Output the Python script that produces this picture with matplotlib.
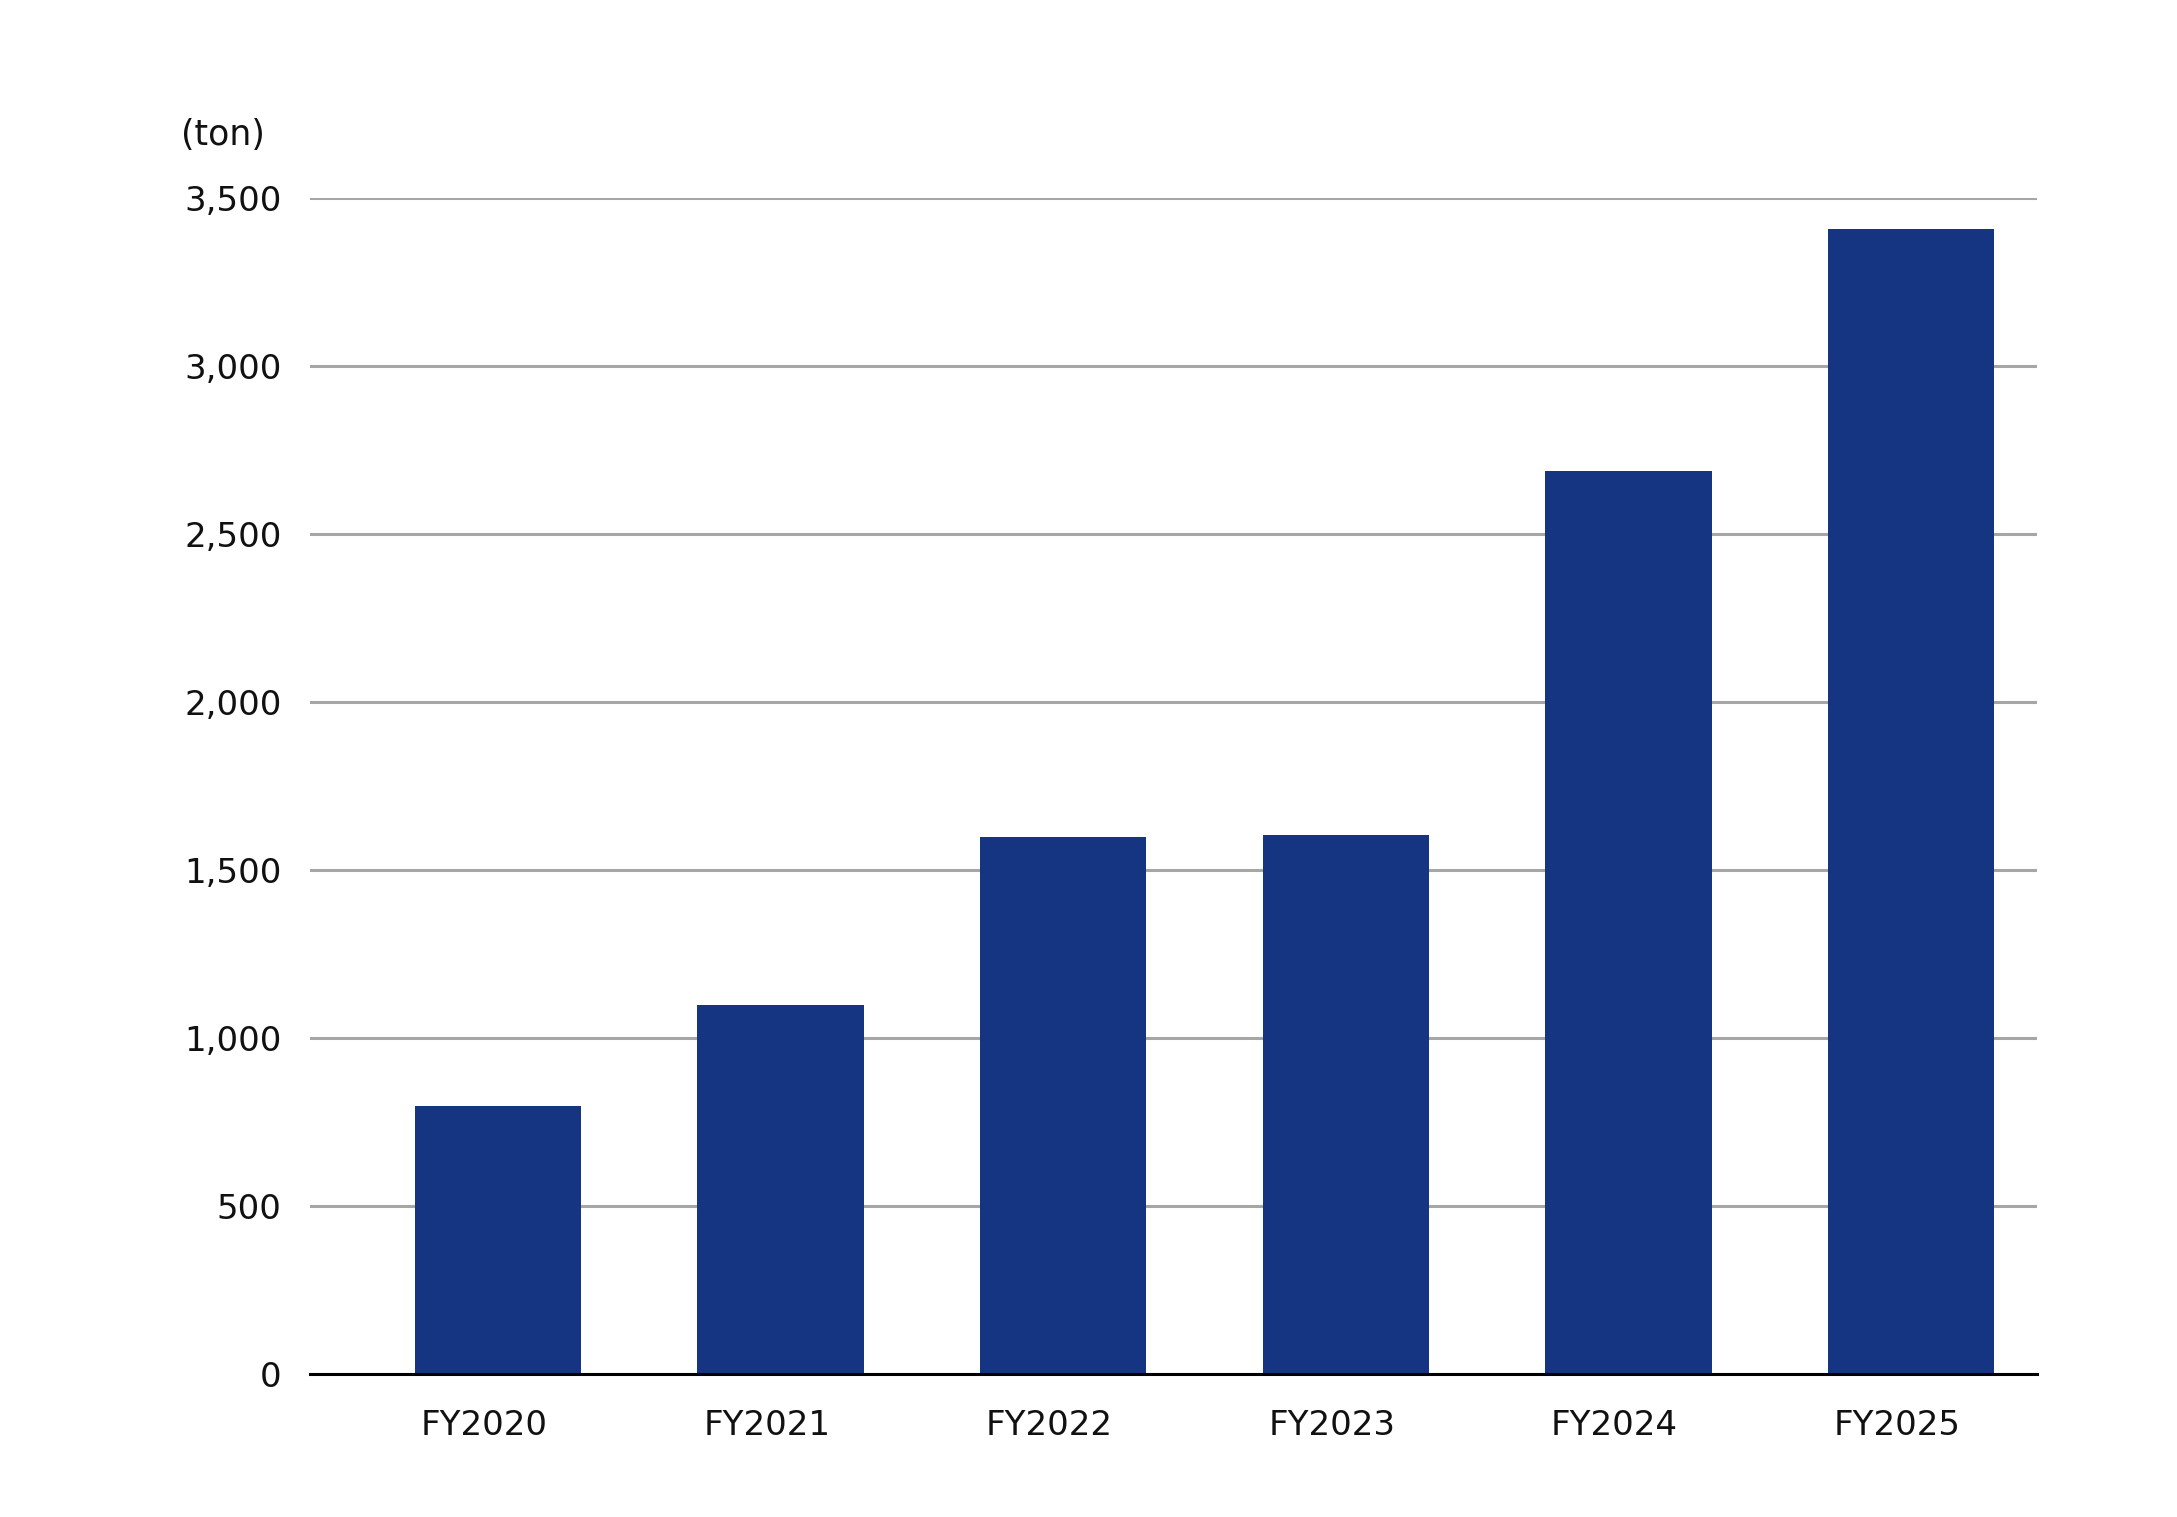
import matplotlib.pyplot as plt
import matplotlib.transforms as mtransforms
from matplotlib.ticker import FuncFormatter

years = ['FY2020', 'FY2021', 'FY2022', 'FY2023', 'FY2024', 'FY2025']
tons = [798, 1098, 1598, 1604, 2688, 3408]
y_ticks = [0, 500, 1000, 1500, 2000, 2500, 3000, 3500]

fig = plt.figure(figsize=(21.77, 15.17), dpi=100)
ax = fig.add_axes([0.1422, 0.0943, 0.7935, 0.7752])

# бары
ax.bar(range(len(years)), tons, width=0.589, color='#153582', zorder=3)

ax.set_xlim(-0.667, 5.446)
ax.set_ylim(0, 3500)
ax.set_yticks(y_ticks)
ax.yaxis.set_major_formatter(FuncFormatter(lambda v, p: f'{int(v):,}'))
ax.set_xticks(range(len(years)))
ax.set_xticklabels(years)

ax.grid(axis='y', color='#a6a6a6', linewidth=2.2, zorder=0)
ax.set_axisbelow(True)
for side in ['top', 'right', 'left']:
    ax.spines[side].set_visible(False)
ax.spines['bottom'].set_color('black')
ax.spines['bottom'].set_linewidth(2.2)
ax.spines['bottom'].set_zorder(4)

ax.tick_params(axis='both', length=0, labelsize=24.5, colors='#111111')
ax.tick_params(axis='y', pad=20)
ax.tick_params(axis='x', pad=25)

# подписи по оси X в оригинале чуть левее центра столбцов
shift = mtransforms.ScaledTranslation(-0.14, 0, fig.dpi_scale_trans)
for lbl in ax.get_xticklabels():
    lbl.set_transform(lbl.get_transform() + shift)

fig.text(0.083, 0.911, '(ton)', fontsize=25, color='#111111', ha='left', va='center')

plt.savefig('out.png', dpi=100)
